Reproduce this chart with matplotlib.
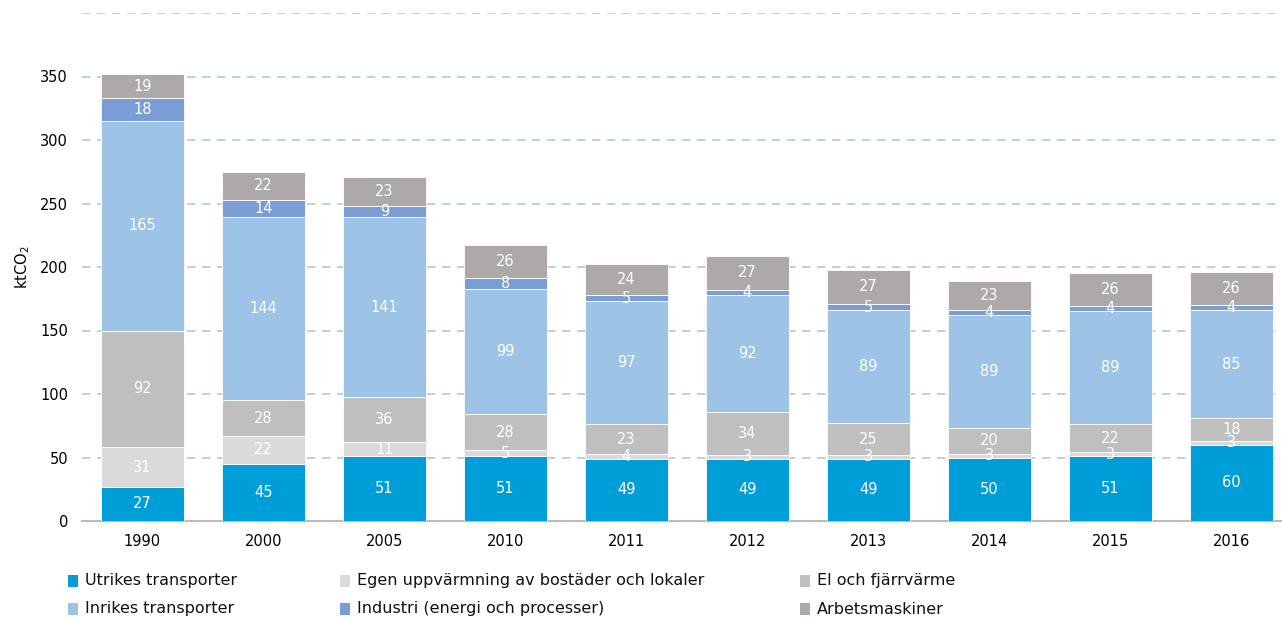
import matplotlib
matplotlib.use("Agg")
import matplotlib.pyplot as plt
from matplotlib.patches import Rectangle
import numpy as np

plt.rcParams['font.family'] = ['DejaVu Sans']

years = ["1990", "2000", "2005", "2010", "2011", "2012", "2013", "2014", "2015", "2016"]
utrikes = [27, 45, 51, 51, 49, 49, 49, 50, 51, 60]
egen = [31, 22, 11, 5, 4, 3, 3, 3, 3, 3]
el = [92, 28, 36, 28, 23, 34, 25, 20, 22, 18]
inrikes = [165, 144, 141, 99, 97, 92, 89, 89, 89, 85]
industri = [18, 14, 9, 8, 5, 4, 5, 4, 4, 4]
arbets = [19, 22, 23, 26, 24, 27, 27, 23, 26, 26]

series = [
    ("Utrikes transporter", utrikes, "#009ED8"),
    ("Egen uppvärmning av bostäder och lokaler", egen, "#DADADA"),
    ("El och fjärrvärme", el, "#BFBFBF"),
    ("Inrikes transporter", inrikes, "#9DC3E6"),
    ("Industri (energi och processer)", industri, "#7B9DD6"),
    ("Arbetsmaskiner", arbets, "#ADA9A8"),
]

W, H = 1282, 619
fig = plt.figure(figsize=(W/100, H/100), dpi=100)
ax = fig.add_axes([82/W, 98/H, 1 - 82/W, (521-13)/H])

x = np.arange(len(years))
bottom = np.zeros(len(years))
for name, vals, col in series:
    vals = np.array(vals, dtype=float)
    ax.bar(x, vals, 0.686, bottom=bottom, color=col, edgecolor="white", linewidth=0.6, zorder=3)
    for xi, b, v in zip(x, bottom, vals):
        ax.text(xi, b + v/2, f"{int(v)}", ha="center", va="center", color="white", fontsize=10.5, zorder=4)
    bottom += vals

ax.set_xlim(-0.5, 9.42)
ax.set_ylim(0, 400)
ax.set_yticks(np.arange(0, 401, 50))
ax.set_yticklabels([str(v) if v < 400 else "" for v in range(0, 401, 50)])
ax.set_xticks(x)
ax.set_xticklabels(years)
ax.tick_params(axis="both", length=0, labelsize=10.5)
ax.tick_params(axis="y", pad=10)
ax.tick_params(axis="x", pad=9)
for s in ["top", "right", "left"]:
    ax.spines[s].set_visible(False)
ax.spines["bottom"].set_color("#BBBBBB")
ax.spines["bottom"].set_linewidth(1.5)
ax.yaxis.grid(True, color="#B4C7DC", linestyle=(0, (5, 4)), linewidth=1.2, zorder=0)
ax.set_axisbelow(True)
ax.set_ylabel("ktCO$_2$", fontsize=10.5, labelpad=6)

# legend placed manually: 2 rows x 3 columns
col_x = [68, 340, 800]
row_y = [581, 609]
layout = [
    [0, 1, 2],
    [3, 4, 5],
]
for r, row in enumerate(layout):
    for c, idx in enumerate(row):
        name, _, col = series[idx]
        px, py = col_x[c], row_y[r]
        fig.patches.append(Rectangle((px/W, 1 - (py + 6)/H), 10/W, 12/H,
                                     transform=fig.transFigure, facecolor=col,
                                     edgecolor="none"))
        fig.text((px + 17)/W, 1 - py/H, name, ha="left", va="center", fontsize=11.5,
                 color="#111111")

fig.savefig("out.png", dpi=100)
